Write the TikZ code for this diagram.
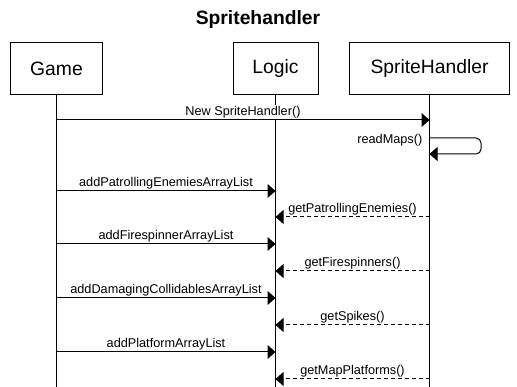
\documentclass[tikz,border=0pt]{standalone}
\usepackage{fontspec}
\setmainfont{Liberation Sans}
\usetikzlibrary{arrows.meta}

\begin{document}
\begin{tikzpicture}[x=1pt,y=-1pt,line width=1pt,
  actor/.style={draw,fill=white,minimum width=#1,minimum height=52pt,inner sep=0pt,font=\fontsize{19.3}{21}\selectfont},
  call/.style={-{Triangle[length=8pt,width=14pt]}},
  reply/.style={call,dash pattern=on 4pt off 3pt},
  msg/.style={fill=white,inner sep=1.2pt,font=\fontsize{12.7}{14}\selectfont}]
\useasboundingbox (0,0) rectangle (517,387);
\node[font=\bfseries\fontsize{19.3}{21}\selectfont] (title) at (258,20) {Spritehandler};
\node[actor=92pt] (game) at (56.5,69) {Game};
\node[actor=85pt] (logic) at (275.5,69) {Logic};
\node[actor=160pt] (handler) at (429.5,69) {SpriteHandler};
% lifelines down to the bottom edge
\coordinate (gameend) at (game |- 0,390);
\coordinate (logicend) at (logic |- 0,390);
\coordinate (handlerend) at (handler |- 0,390);
\draw (game.south) -- (gameend);
\draw (logic.south) -- (logicend);
\draw (handler.south) -- (handlerend);
% message heights
\coordinate (m1) at (0,120);
\coordinate (m2) at (0,138);
\coordinate (m3) at (0,154);
\coordinate (m4) at (0,191);
\coordinate (m5) at (0,217);
\coordinate (m6) at (0,244);
\coordinate (m7) at (0,271);
\coordinate (m8) at (0,298);
\coordinate (m9) at (0,325);
\coordinate (m10) at (0,352);
\coordinate (m11) at (0,379);
\coordinate (loopout) at (481,138);
\coordinate (loopback) at (481,154);
\draw[call] (game |- m1) -- node[msg,above] (new) {New SpriteHandler()} (handler |- m1);
\draw[call,rounded corners=5pt] (handler |- m2) -- (loopout) -- (loopback) -- (handler |- m3);
\node[msg,anchor=east] (read) at (424,140) {readMaps()};
\draw[call] (game |- m4) -- node[msg,above] (addpat) {addPatrollingEnemiesArrayList} (logic |- m4);
\draw[reply] (handler |- m5) -- node[msg,above] (getpat) {getPatrollingEnemies()} (logic |- m5);
\draw[call] (game |- m6) -- node[msg,above] (addfire) {addFirespinnerArrayList} (logic |- m6);
\draw[reply] (handler |- m7) -- node[msg,above] (getfire) {getFirespinners()} (logic |- m7);
\draw[call] (game |- m8) -- node[msg,above] (adddmg) {addDamagingCollidablesArrayList} (logic |- m8);
\draw[reply] (handler |- m9) -- node[msg,above] (getspk) {getSpikes()} (logic |- m9);
\draw[call] (game |- m10) -- node[msg,above] (addplat) {addPlatformArrayList} (logic |- m10);
\draw[reply] (handler |- m11) -- node[msg,above] (getplat) {getMapPlatforms()} (logic |- m11);
\end{tikzpicture}
\end{document}
